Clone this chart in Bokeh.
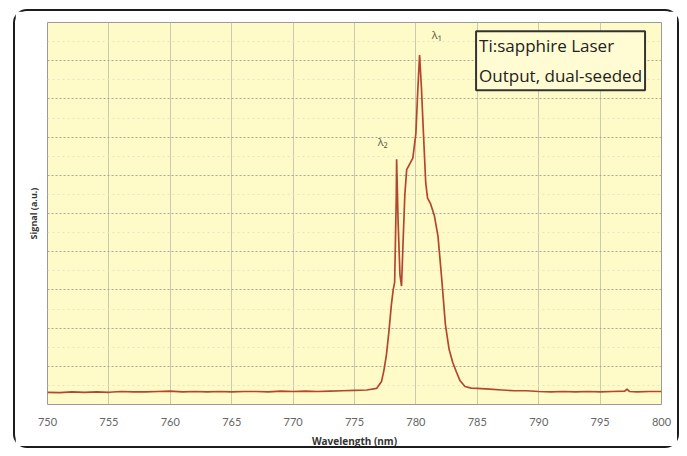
from bokeh.plotting import figure
from bokeh.models import Label, Range1d, FixedTicker
from bokeh.embed import file_html
from bokeh.resources import INLINE

# ---- data ----
wavelength = [750, 751, 752, 753, 754, 755, 756, 757, 758, 759, 760, 761, 762, 763,
              764, 765, 766, 767, 768, 769, 770, 771, 772, 773, 774, 775, 776, 776.8,
              777.2, 777.4, 777.6, 777.8, 778.0, 778.15, 778.27, 778.4, 778.43, 778.55,
              778.7, 778.83, 778.95, 779.1, 779.25, 779.5, 779.75, 780.0, 780.15, 780.3,
              780.45, 780.6, 780.8, 780.95, 781.2, 781.5, 781.8, 782.1, 782.4, 782.7,
              783.0, 783.3, 783.6, 784.0, 784.5, 785, 786, 787, 788, 789, 790, 791, 792,
              793, 794, 795, 796, 797, 797.2, 797.4, 798, 799, 800]
signal = [0.32, 0.31, 0.33, 0.32, 0.33, 0.32, 0.34, 0.33, 0.33, 0.34, 0.35, 0.33, 0.34, 0.33,
          0.34, 0.33, 0.34, 0.34, 0.33, 0.35, 0.34, 0.35, 0.34, 0.35, 0.36, 0.37, 0.38, 0.42,
          0.60, 0.90, 1.30, 1.90, 2.60, 3.00, 3.20, 5.40, 6.42, 4.80,
          3.40, 3.10, 4.20, 5.50, 6.15, 6.30, 6.45, 7.10, 8.20, 9.15,
          8.30, 7.20, 5.80, 5.40, 5.25, 4.95, 4.40, 3.30, 2.10, 1.45,
          1.10, 0.85, 0.62, 0.47, 0.43, 0.42, 0.40, 0.38, 0.36, 0.36, 0.34, 0.33, 0.34,
          0.33, 0.34, 0.33, 0.34, 0.35, 0.40, 0.34, 0.33, 0.34, 0.34]
x_ticks = [750, 755, 760, 765, 770, 775, 780, 785, 790, 795, 800]
y_grid = [0, 1, 2, 3, 4, 5, 6, 7, 8, 9, 10]
y_minor_grid = [0.5, 1.5, 2.5, 3.5, 4.5, 5.5, 6.5, 7.5, 8.5, 9.5]
box_text = "Ti:sapphire Laser\nOutput, dual-seeded"
peak_labels = ["λ₁", "λ₂"]
peak_label_x = [781.3, 776.9]
peak_label_y = [9.5, 6.7]

p = figure(width=666, height=439, output_backend="svg", toolbar_location=None,
           x_range=Range1d(750, 800), y_range=Range1d(0, 10),
           min_border_left=32, min_border_right=20, min_border_top=11, min_border_bottom=44,
           background_fill_color="#fffbc9", border_fill_color="white",
           outline_line_color="#9a9a9a", outline_line_width=1)
p.styles = {"margin-left": "13px", "margin-top": "9px",
            "border": "2px solid #1c1c1c", "border-radius": "14px"}

p.xaxis.ticker = FixedTicker(ticks=x_ticks)
p.yaxis.ticker = FixedTicker(ticks=[])
p.ygrid.ticker = FixedTicker(ticks=y_grid, minor_ticks=y_minor_grid)
p.xaxis.axis_label = "Wavelength (nm)"
p.yaxis.axis_label = "Signal (a.u.)"
for ax in (p.xaxis, p.yaxis):
    ax.axis_line_color = None
    ax.major_tick_line_color = None
    ax.minor_tick_line_color = None
    ax.axis_label_text_font = "Open Sans"
    ax.axis_label_text_font_style = "bold"
    ax.axis_label_text_color = "#333333"
    ax.major_label_text_font = "Lato"
    ax.major_label_text_color = "#666666"
p.xaxis.axis_label_text_font_size = "10px"
p.xaxis.major_label_text_font_size = "11px"
p.xaxis.major_label_standoff = 7
p.xaxis.axis_label_standoff = 5
p.yaxis.axis_label_text_font_size = "9px"
p.yaxis.axis_label_standoff = 8

p.xgrid.grid_line_color = "#c9cbb0"
p.xgrid.grid_line_width = 1
p.ygrid.grid_line_color = "#a8a89a"
p.ygrid.grid_line_dash = "2 2"
p.ygrid.grid_line_width = 1
p.ygrid.minor_grid_line_color = "#e6e4c4"
p.ygrid.minor_grid_line_dash = "2 3"

p.line(wavelength, signal, line_color="#b3472e", line_width=1.7)

for t, lx, ly in zip(peak_labels, peak_label_x, peak_label_y):
    p.add_layout(Label(x=lx, y=ly, text=t, text_font="Open Sans", text_font_size="11px",
                       text_color="#5a5a48", text_align="left", text_baseline="bottom"))

p.add_layout(Label(x=784.9, y=9.77, text=box_text, text_font="Open Sans",
                   text_font_size="17px", text_color="#222222",
                   text_align="left", text_baseline="top", text_line_height=1.3,
                   padding=3, border_line_color="#333333", border_line_width=2,
                   background_fill_color="#fffbd2"))

open("out.html", "w").write(file_html(p, INLINE))
